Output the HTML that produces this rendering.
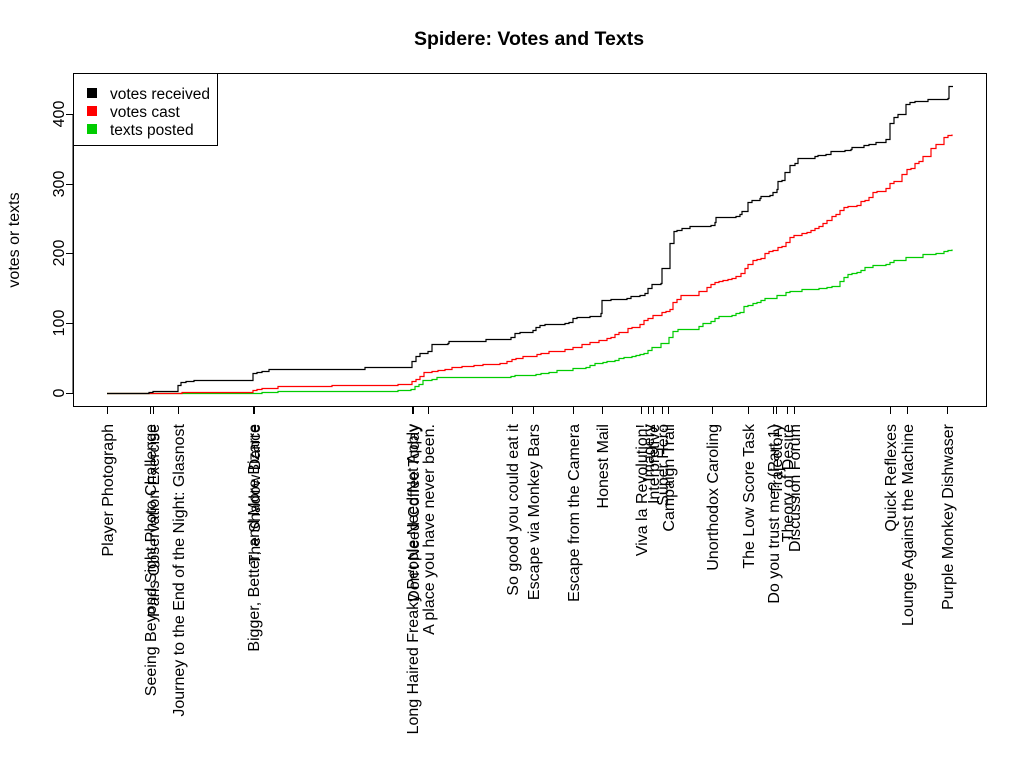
<!DOCTYPE html>
<html><head><meta charset="utf-8"><style>
html,body{margin:0;padding:0;background:#fff;}
svg{display:block;font-family:"Liberation Sans",Arial,sans-serif;}
</style></head><body>
<svg id="s" width="1024" height="768" viewBox="0 0 1024 768" xmlns="http://www.w3.org/2000/svg">
<rect width="1024" height="768" fill="#fff"/>
<text x="529" y="45" font-size="19.5" font-weight="bold" text-anchor="middle">Spidere: Votes and Texts</text>
<rect x="73.5" y="73.5" width="913" height="333" fill="none" stroke="#000" stroke-width="1"/>
<g stroke="#000" stroke-width="1">
<line x1="73" y1="393.5" x2="66" y2="393.5"/><line x1="73" y1="323.5" x2="66" y2="323.5"/><line x1="73" y1="253.5" x2="66" y2="253.5"/><line x1="73" y1="184.5" x2="66" y2="184.5"/><line x1="73" y1="114.5" x2="66" y2="114.5"/>
<line x1="73" y1="114" x2="73" y2="393"/>
</g>
<g font-size="16" text-anchor="middle">
<text transform="translate(64,393) rotate(-90)">0</text>
<text transform="translate(64,323) rotate(-90)">100</text>
<text transform="translate(64,253) rotate(-90)">200</text>
<text transform="translate(64,184) rotate(-90)">300</text>
<text transform="translate(64,114) rotate(-90)">400</text>
<text transform="translate(19,240) rotate(-90)">votes or texts</text>
</g>
<g id="lines" fill="none" stroke-width="1.2"></g>
<g id="ticks" stroke="#000" stroke-width="1"></g>
<g id="labs" font-size="16" text-anchor="end"></g>
<rect x="73.5" y="73.5" width="144" height="72" fill="#fff" stroke="#000"/>
<rect x="87" y="88" width="10" height="10" fill="#000"/>
<rect x="87" y="106" width="10" height="10" fill="#f00"/>
<rect x="87" y="124" width="10" height="10" fill="#0c0"/>
<g font-size="15.5"><text x="110" y="99">votes received</text><text x="110" y="117">votes cast</text><text x="110" y="135">texts posted</text></g>
</svg>
<script>
var B=[[107,393],[149,392],[153,391],[178,385],[181,382],[186,381],[194,380],[253,373],[257,372],[262,371],[269,369],[365,367],[412,361],[416,356],[420,353],[428,351],[432,344],[448,343],[449,341],[486,339],[511,337],[515,333],[520,332],[533,330],[536,327],[540,325],[545,324],[565,323],[569,322],[573,318],[577,317],[590,316],[601,313],[602,300],[611,299],[627,298],[631,296],[640,295],[645,293],[648,288],[652,284],[661,283],[662,268],[670,243],[674,231],[677,230],[682,228],[690,226],[711,225],[715,222],[716,217],[736,216],[740,214],[742,211],[748,202],[752,200],[760,198],[761,196],[770,195],[773,192],[777,189],[778,181],[782,180],[785,172],[790,165],[795,163],[798,158],[815,156],[818,155],[826,154],[831,151],[845,150],[851,149],[852,147],[864,145],[869,144],[876,142],[886,139],[890,123],[894,117],[898,114],[906,104],[910,102],[915,101],[928,99],[948,98],[949,86],[953,86]];
var R=[[107,393],[182,392],[253,390],[257,389],[262,388],[278,386],[332,385],[398,384],[412,381],[416,379],[420,376],[424,372],[432,371],[438,370],[445,369],[452,367],[462,366],[474,365],[483,364],[500,363],[507,361],[512,359],[516,358],[523,356],[537,354],[541,353],[549,351],[565,349],[573,347],[582,344],[590,342],[599,340],[607,338],[611,337],[615,334],[619,332],[628,328],[632,327],[640,324],[644,320],[648,318],[653,315],[662,312],[666,311],[670,309],[673,302],[677,299],[681,295],[699,291],[707,287],[711,284],[715,282],[719,281],[723,280],[728,279],[732,278],[736,276],[741,273],[745,268],[748,264],[753,260],[757,259],[761,258],[765,253],[769,251],[773,250],[778,247],[782,246],[786,242],[790,237],[794,235],[802,233],[807,232],[811,230],[815,228],[819,226],[823,223],[827,220],[832,216],[836,214],[840,210],[844,207],[848,206],[857,205],[861,201],[865,200],[869,197],[873,192],[877,191],[886,188],[890,183],[894,181],[902,174],[907,169],[911,168],[915,163],[919,161],[923,156],[931,148],[936,144],[944,137],[948,135],[952,134]];
var G=[[107,393],[262,392],[278,391],[398,390],[411,389],[415,386],[419,384],[423,380],[432,379],[437,377],[511,376],[515,375],[536,374],[541,373],[549,372],[557,370],[573,368],[586,367],[590,365],[595,363],[603,362],[607,361],[615,360],[619,358],[624,357],[632,356],[636,355],[640,354],[644,353],[648,350],[652,347],[661,343],[669,337],[673,331],[678,329],[699,326],[703,323],[711,321],[715,318],[719,316],[732,315],[736,313],[740,312],[744,306],[748,305],[753,303],[757,302],[761,300],[765,298],[777,295],[786,292],[790,291],[802,289],[819,288],[827,287],[832,286],[840,281],[844,277],[848,274],[852,273],[857,272],[861,270],[865,267],[873,265],[886,264],[890,262],[894,260],[906,257],[923,254],[936,253],[944,251],[948,250],[952,249]];
var NS="http://www.w3.org/2000/svg";
function step(p,c){var d="M"+p[0][0]+" "+(p[0][1]+.5);for(var i=1;i<p.length;i++){d+=" H"+p[i][0]+" V"+(p[i][1]+.5);}var e=document.createElementNS(NS,"path");e.setAttribute("d",d);e.setAttribute("stroke",c);document.getElementById("lines").appendChild(e);}
step(G,"#0c0");step(R,"#f00");step(B,"#000");
var L=[[107,"Player Photograph"],[150,"Seeing Beyond Sight Photo Challenge"],[153,"Paris Observation Exercise"],[178,"Journey to the End of the Night: Glasnost"],[253,"Bigger, Better, and More Bizarre"],[254,"The Shadow Dance"],[412,"Long Haired Freaky People Need Not Apply"],[413,"Don't Need Coffee Today"],[428,"A place you have never been."],[512,"So good you could eat it"],[533,"Escape via Monkey Bars"],[573,"Escape from the Camera"],[602,"Honest Mail"],[641,"Viva la Revolution!"],[648,"Imagery"],[653,"Interpretive"],[662,"Super Hero"],[668,"Campaign Trail"],[712,"Unorthodox Caroling"],[748,"The Low Score Task"],[773,"Do you trust me? (Part 1)"],[776,"Trajectory"],[787,"Theory of Desire"],[794,"Discussion Forum"],[890,"Quick Reflexes"],[907,"Lounge Against the Machine"],[947,"Purple Monkey Dishwaser"]];
var tk=document.getElementById("ticks"),lb=document.getElementById("labs");
L.forEach(function(a){var l=document.createElementNS(NS,"line");l.setAttribute("x1",a[0]+.5);l.setAttribute("x2",a[0]+.5);l.setAttribute("y1",407);l.setAttribute("y2",414);tk.appendChild(l);
var t=document.createElementNS(NS,"text");t.setAttribute("transform","translate("+(a[0]+6)+",424) rotate(-90)");t.textContent=a[1];lb.appendChild(t);});
</script>
</body></html>
